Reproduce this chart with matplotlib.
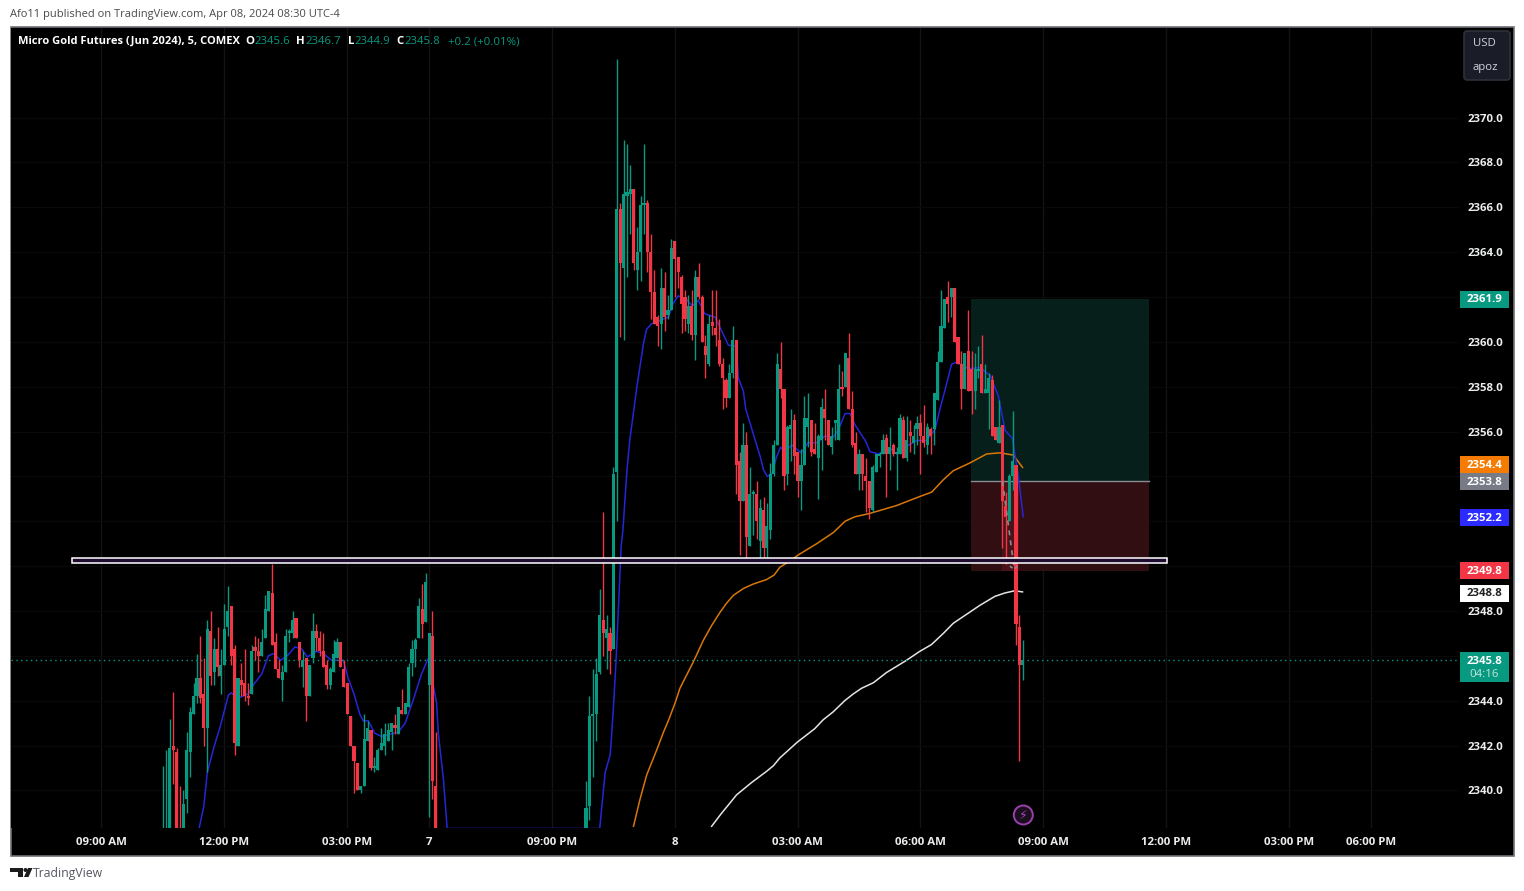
import numpy as np
import matplotlib
matplotlib.use("Agg")
import matplotlib.pyplot as plt
from matplotlib.patches import Rectangle, FancyBboxPatch, Polygon, Circle
from matplotlib.transforms import blended_transform_factory

W, H = 1524, 891

# first session, bars 0..80
opens_a = [2336.5,2336.5,2336.5,2342.0,2341.7,2337.5,2336.5,2339.6,2341.7,2343.4,
 2344.2,2345.0,2344.3,2342.8,2347.1,2345.3,2346.3,2345.1,2345.6,2347.3,
 2348.2,2346.3,2342.0,2344.9,2344.8,2344.2,2344.3,2346.4,2346.2,2346.0,
 2346.8,2348.0,2348.8,2346.6,2345.4,2344.9,2345.3,2347.0,2347.0,2347.7,
 2346.6,2345.5,2345.9,2344.2,2345.9,2347.1,2346.8,2346.2,2345.6,2344.7,
 2345.3,2345.9,2346.6,2345.4,2344.8,2343.3,2342.0,2341.2,2340.0,2340.2,
 2342.2,2342.7,2341.0,2340.9,2341.8,2342.0,2342.2,2342.6,2342.9,2342.5,
 2343.6,2343.4,2343.7,2345.7,2346.3,2346.8,2348.1,2347.5,2344.7,2346.9,2340.2]
highs_a = [2341.1,2341.8,2343.2,2344.4,2341.9,2340.2,2340.0,2342.6,2343.7,2344.8,
 2346.1,2346.9,2345.9,2347.6,2348.0,2346.8,2347.3,2346.3,2348.3,2349.1,
 2348.2,2346.5,2345.0,2345.7,2346.3,2344.8,2346.5,2346.9,2346.8,2347.2,
 2348.7,2348.9,2350.1,2347.0,2345.8,2345.6,2347.2,2347.2,2348.0,2347.7,
 2346.6,2346.2,2345.9,2345.6,2347.9,2347.4,2347.1,2347.0,2345.8,2345.5,
 2346.7,2346.8,2346.6,2345.8,2344.8,2343.3,2342.0,2341.2,2340.2,2343.4,
 2343.1,2342.7,2341.5,2341.9,2342.8,2343.0,2343.0,2343.0,2343.4,2343.7,
 2344.5,2343.9,2345.7,2346.7,2346.8,2348.6,2349.2,2349.7,2347.0,2348.0,2342.6]
lows_a = [2336.0,2336.0,2336.0,2340.3,2336.0,2336.0,2336.0,2339.0,2340.6,2343.4,
 2343.9,2343.9,2342.0,2340.8,2344.7,2344.7,2345.1,2344.3,2345.6,2346.9,
 2345.6,2341.6,2342.0,2344.2,2344.0,2343.8,2344.3,2345.8,2345.3,2346.0,
 2346.8,2348.0,2346.5,2345.4,2345.0,2344.0,2345.3,2346.6,2346.8,2346.8,
 2345.5,2344.6,2343.1,2344.2,2345.7,2346.2,2346.0,2345.5,2344.5,2344.5,
 2345.3,2345.9,2345.5,2344.6,2343.4,2342.0,2339.9,2340.0,2339.9,2340.2,
 2342.2,2340.9,2340.8,2340.9,2341.8,2341.6,2342.2,2341.8,2342.5,2342.5,
 2343.4,2343.4,2343.7,2345.1,2345.5,2346.8,2346.8,2347.5,2338.8,2339.6,2336.0]
closes_a = [2337.5,2337.8,2341.9,2341.8,2336.5,2336.8,2339.4,2341.8,2343.5,2344.2,
 2345.0,2344.1,2342.8,2347.2,2345.1,2346.3,2345.5,2345.6,2347.2,2348.0,
 2346.0,2342.1,2345.0,2344.7,2344.2,2344.1,2346.2,2346.2,2346.0,2346.6,
 2348.1,2348.9,2346.5,2345.4,2345.0,2345.3,2346.9,2347.0,2347.6,2346.8,
 2345.8,2345.8,2344.2,2345.6,2347.1,2346.8,2346.2,2345.5,2344.7,2345.4,
 2346.1,2346.6,2345.5,2344.6,2343.4,2342.0,2341.3,2340.0,2340.2,2342.3,
 2342.8,2341.0,2341.1,2341.8,2342.1,2342.5,2342.7,2343.0,2342.8,2343.7,
 2343.4,2343.9,2345.5,2346.3,2346.7,2348.2,2347.4,2349.3,2347.0,2340.4,2336.5]

# second session, bars 124..252
opens_b = [2337.5,2339.3,2343.3,2343.4,2345.3,2347.6,2346.8,2347.0,2346.3,2354.2,
 2365.9,2363.3,2366.5,2366.6,2366.8,2363.2,2364.0,2366.1,2366.2,2364.0,
 2362.2,2361.1,2360.8,2362.4,2361.2,2361.4,2364.5,2363.8,2362.9,2362.0,
 2360.8,2361.6,2360.3,2362.9,2362.0,2359.8,2359.0,2360.9,2360.6,2360.1,
 2359.0,2358.3,2357.5,2358.6,2360.1,2354.7,2352.9,2355.4,2350.9,2353.2,
 2353.2,2351.1,2352.5,2350.8,2351.6,2354.1,2355.4,2358.8,2357.9,2354.1,
 2356.1,2356.5,2355.1,2353.8,2354.5,2356.2,2356.5,2355.2,2354.8,2355.6,
 2357.0,2356.5,2355.3,2356.4,2355.6,2358.0,2358.0,2359.3,2357.0,2355.5,
 2354.1,2355.0,2354.0,2353.8,2352.5,2354.2,2354.9,2355.0,2355.7,2355.0,
 2355.4,2355.0,2355.0,2356.5,2354.8,2356.0,2355.5,2356.1,2356.4,2355.8,
 2355.4,2356.1,2356.1,2357.4,2359.1,2360.6,2362.0,2362.0,2362.4,2360.2,
 2359.0,2357.9,2359.6,2358.8,2357.8,2358.7,2359.0,2357.7,2357.7,2358.3,
 2356.2,2355.5,2356.3,2352.7,2352.0,2354.0,2354.5,2347.3,2345.6]
highs_b = [2340.4,2344.2,2345.4,2345.9,2349.0,2352.4,2347.8,2347.3,2354.4,2372.6,
 2366.2,2369.0,2368.8,2367.9,2366.8,2365.1,2366.5,2368.8,2366.3,2364.8,
 2363.2,2361.2,2363.3,2363.1,2362.1,2364.6,2364.5,2363.8,2363.0,2362.3,
 2362.1,2362.3,2363.2,2363.5,2362.1,2360.3,2361.2,2362.3,2362.3,2361.0,
 2359.3,2358.4,2359.0,2360.7,2360.1,2355.1,2356.4,2356.0,2354.4,2353.4,
 2353.8,2353.0,2353.1,2352.8,2354.6,2355.6,2359.5,2360.0,2357.9,2356.3,
 2357.0,2356.8,2355.1,2355.2,2357.6,2357.7,2356.5,2356.4,2355.9,2357.5,
 2357.9,2356.5,2356.2,2356.5,2359.0,2358.7,2359.5,2360.4,2357.8,2356.0,
 2355.2,2355.0,2354.8,2353.8,2354.5,2355.0,2355.1,2355.9,2355.9,2356.2,
 2355.5,2355.3,2356.8,2356.7,2356.7,2356.5,2356.3,2356.7,2356.8,2357.2,
 2356.4,2356.2,2357.7,2359.6,2362.3,2361.9,2362.7,2362.4,2362.4,2360.2,
 2359.6,2359.5,2361.4,2359.6,2359.5,2359.8,2360.3,2359.0,2358.6,2358.5,
 2356.2,2357.4,2356.3,2353.3,2354.1,2356.9,2354.5,2347.8,2346.7]
lows_b = [2337.0,2338.7,2340.6,2342.2,2345.2,2346.0,2345.4,2345.2,2346.3,2352.0,
 2360.2,2360.1,2362.9,2364.8,2363.2,2362.3,2362.7,2364.8,2363.1,2361.0,
 2360.8,2359.8,2359.7,2360.5,2361.0,2361.4,2362.0,2362.4,2360.4,2360.5,
 2360.4,2360.1,2359.2,2361.9,2360.0,2358.4,2358.9,2360.3,2359.8,2358.9,
 2357.0,2357.1,2357.5,2358.4,2353.2,2350.5,2352.9,2350.3,2350.9,2351.4,
 2351.2,2350.3,2350.4,2350.3,2351.2,2354.0,2355.4,2357.5,2353.4,2353.6,
 2354.7,2354.1,2353.1,2352.5,2354.5,2355.3,2354.9,2355.0,2353.0,2354.3,
 2355.6,2355.4,2355.0,2355.6,2355.6,2357.6,2358.0,2357.0,2355.3,2354.1,
 2353.4,2353.4,2352.4,2352.1,2352.4,2354.2,2354.4,2355.0,2353.1,2354.3,
 2354.9,2353.4,2355.0,2354.8,2354.7,2355.1,2355.0,2355.4,2354.1,2355.3,
 2355.0,2355.0,2355.4,2357.4,2359.1,2360.6,2360.9,2361.1,2360.0,2359.0,
 2357.0,2357.9,2357.8,2356.8,2357.0,2358.4,2357.7,2357.7,2356.1,2355.8,
 2355.6,2355.5,2350.8,2350.1,2352.0,2353.4,2346.5,2341.3,2344.9]
closes_b = [2339.2,2343.3,2343.4,2345.2,2347.8,2347.0,2347.2,2346.2,2354.1,2365.9,
 2363.5,2366.6,2366.7,2366.8,2363.5,2364.0,2366.1,2366.2,2364.0,2362.2,
 2360.8,2360.7,2362.4,2361.1,2361.4,2364.2,2363.7,2363.1,2361.7,2361.0,
 2361.6,2360.3,2362.9,2362.0,2360.0,2359.4,2360.8,2360.7,2360.3,2359.0,
 2358.4,2357.5,2358.6,2360.1,2354.5,2352.9,2355.4,2351.3,2353.2,2353.3,
 2352.0,2352.6,2350.8,2351.8,2354.1,2355.4,2359.0,2357.9,2354.0,2356.2,
 2356.3,2354.9,2353.8,2354.5,2356.6,2356.6,2355.1,2355.0,2355.8,2357.1,
 2356.6,2355.4,2355.8,2356.4,2357.9,2357.9,2359.5,2357.0,2355.4,2354.1,
 2355.0,2354.1,2353.8,2352.6,2354.4,2355.0,2355.0,2355.6,2355.0,2355.3,
 2355.0,2355.0,2356.6,2354.8,2355.6,2355.8,2355.8,2356.4,2355.8,2355.5,
 2356.2,2355.8,2357.7,2359.1,2360.7,2361.9,2361.7,2362.4,2360.0,2359.0,
 2357.9,2359.5,2357.8,2357.8,2358.8,2358.8,2357.7,2357.9,2358.4,2355.8,
 2355.6,2356.2,2352.9,2352.2,2354.0,2354.7,2347.4,2345.6,2345.8]

bars_a = np.arange(0, 81)
bars_b = np.arange(124, 253)

fast_x = [10.6,12,13,15,16.8,19.2,20,21.8,25,26.5,29,30.9,32.4,34.5,36.8,38.7,40.7,42.3,45,47,49.4,52.9,54.3,56,57.7,58.7,60.2,62.1,64.1,66.5,69,71,73.4,75.8,77.8,79.4,80.2,80.7,82.2,83.3,
 128,129.6,131.1,131.9,132.8,134.3,134.8,136,136.8,139,140.8,141.7,143.2,145.6,148.1,149.5,151,153.4,155.1,156.9,158.8,161.8,163.7,165.7,168.1,168.6,170.1,170.8,175,176,177.1,178.4,179.9,181,182.3,184.3,187,189.1,191.8,194,196.5,198,199.9,201.4,202.8,206,207.2,209.7,213.1,215,217,220.9,223.8,226.3,227.7,229.7,231.1,232.6,236,239.4,242.4,244.8,246.8,248.9,250.7,252.1]
fast_y = [2338.3,2339.3,2340.8,2341.95,2342.85,2344.25,2344.35,2344.1,2344.3,2344.7,2345.2,2346.0,2346.1,2345.8,2346.05,2346.4,2346.3,2345.95,2346.2,2346.1,2345.8,2345.8,2345.0,2344.3,2343.4,2343.1,2343.1,2342.55,2342.4,2342.5,2342.6,2343.0,2344.05,2345.2,2345.9,2344.55,2343.9,2342.55,2340.5,2338.3,
 2338.3,2340.8,2341.6,2343.4,2345.8,2350.9,2351.6,2354.3,2355.6,2358.1,2359.9,2360.55,2360.8,2360.95,2361.1,2361.7,2362.05,2361.9,2361.6,2361.85,2361.25,2361.1,2360.5,2359.85,2359.8,2358.4,2357.8,2357.0,2354.9,2354.3,2354.0,2354.1,2354.9,2355.3,2355.1,2355.4,2355.05,2355.5,2355.5,2355.8,2355.75,2356.1,2356.8,2356.8,2356.3,2355.55,2355.1,2355.0,2355.25,2355.0,2355.25,2355.6,2355.6,2356.1,2357.0,2358.15,2359.0,2359.1,2358.8,2358.85,2358.5,2357.6,2356.05,2355.7,2354.0,2352.2]
mid_x = [137.9,139.8,141.8,144.7,146.7,148.1,150.1,151.5,154,155.5,158.4,160.8,163.3,165.2,167.2,170.1,173,176.9,179.1,180.8,184,186.2,191.6,196.5,199.9,202.8,207.2,215,220.9,225.3,228.7,231.6,236.5,241.4,245.3,249.2,251.9]
mid_y = [2338.4,2339.6,2340.7,2341.8,2342.6,2343.1,2343.9,2344.55,2345.3,2345.75,2346.7,2347.35,2347.95,2348.35,2348.7,2349.0,2349.2,2349.4,2349.6,2349.95,2350.25,2350.5,2351.0,2351.5,2352.0,2352.2,2352.35,2352.7,2353.05,2353.3,2353.85,2354.25,2354.6,2355.0,2355.05,2354.95,2354.4]
slow_x = [160.8,163.7,165.7,168.1,172.5,176.9,178.9,180.8,185.9,191,193.5,196.4,199.8,202.3,204.7,208.2,212,217.9,221.8,225.2,228.7,231.6,235.5,239.4,243.8,246.7,249.6,251.9]
slow_y = [2338.4,2338.98,2339.35,2339.8,2340.35,2340.85,2341.1,2341.45,2342.15,2342.75,2343.15,2343.5,2344.0,2344.3,2344.55,2344.8,2345.25,2345.8,2346.2,2346.5,2347.0,2347.45,2347.85,2348.25,2348.65,2348.8,2348.9,2348.85]

price_ticks = list(range(2340, 2372, 2))
hidden_price_labels = [2362, 2354, 2352]  # sit fully under the coloured price tags
time_ticks = [-18, 18, 54, 78, 114, 150, 186, 222, 258, 294, 330, 354]
time_labels = ["09:00 AM", "12:00 PM", "03:00 PM", "7", "09:00 PM", "8", "03:00 AM",
               "06:00 AM", "09:00 AM", "12:00 PM", "03:00 PM", "06:00 PM"]

target_price, entry_price, stop_price = 2361.9, 2353.8, 2349.8
last_price = 2345.8
GREEN = "#089981"
RED = "#F23645"
plt.rcParams["font.family"] = ["Open Sans", "DejaVu Sans"]


def fx(x):
    return x / W


def fy(y):
    return 1 - y / H


fig = plt.figure(figsize=(W / 100, H / 100), dpi=100, facecolor="white")
fig.add_artist(Rectangle((fx(10.5), fy(855.5)), 1503 / W, 829 / H, transform=fig.transFigure,
                         facecolor="black", edgecolor="#6f7178", linewidth=1.2, zorder=-1))

left, right, top, bottom = 11, 1459, 28, 828
ax = fig.add_axes([fx(left), fy(bottom), (right - left) / W, (bottom - top) / H], facecolor="black")
ax.set_xlim((left - 162.9) / 3.4125, (right - 162.9) / 3.4125)
ax.set_ylim(2370 - (bottom - 117.5) / 22.43, 2370 + (117.5 - top) / 22.43)
for side in ax.spines.values():
    side.set_visible(False)

ax.yaxis.tick_right()
ax.set_yticks(price_ticks)
ax.set_yticklabels(["" if p in hidden_price_labels else f"{p:.1f}" for p in price_ticks])
ax.set_xticks(time_ticks)
ax.set_xticklabels(time_labels)
ax.tick_params(length=0, colors="#eceded", labelsize=8.2, pad=6.5)
ax.tick_params(axis="y", pad=6)
for lab in ax.get_xticklabels() + ax.get_yticklabels():
    lab.set_fontweight("bold")
ax.grid(True, axis="x", color="#141414", linewidth=1, zorder=0)
ax.grid(True, axis="y", color="#090909", linewidth=1, zorder=0)
ax.set_axisbelow(True)

# position tool
span_a = (971 - left) / (right - left)
span_b = (1149 - left) / (right - left)
ax.axhspan(entry_price, target_price, xmin=span_a, xmax=span_b, facecolor="#061f1a", edgecolor="none", zorder=1)
ax.axhspan(stop_price, entry_price, xmin=span_a, xmax=span_b, facecolor="#310e11", edgecolor="none", zorder=1)
ax.plot([236.8, 289], [entry_price, entry_price], color="#8a8c93", lw=1, zorder=1.5)
ax.add_patch(Rectangle((246, stop_price), 4.9, entry_price - stop_price, facecolor="#4a1318",
                       edgecolor="none", zorder=1.2))

ax.plot(slow_x, slow_y, color="#e4e4e4", lw=1.1, zorder=2)
ax.plot(mid_x, mid_y, color="#d97706", lw=1.1, zorder=2)
ax.plot(fast_x, fast_y, color="#2626d9", lw=1.1, zorder=2)
ax.axhline(last_price, color=GREEN, lw=1, ls=(0, (1, 2.5)), zorder=2)


def draw_candles(bars, o, h, l, c):
    o, h, l, c = map(np.array, (o, h, l, c))
    colors = np.where(c >= o, GREEN, RED)
    ax.vlines(bars, l, h, colors=colors, linewidth=1, zorder=3)
    ax.bar(bars, np.maximum(np.abs(c - o), 0.1), bottom=np.minimum(o, c), width=0.92,
           color=colors, linewidth=0, zorder=3.1)


draw_candles(bars_a, opens_a, highs_a, lows_a, closes_a)
draw_candles(bars_b, opens_b, highs_b, lows_b, closes_b)

# trade path on top of the candles
ax.plot([246, 249.5], [2353.8, 2349.85], color="#8a8c93", lw=1.2, ls=(0, (3, 3)), zorder=3.5)
ax.plot([248.2, 249.5, 250.9], [2350.0, 2349.85, 2350.1], color="#8a8c93", lw=1.2, ls=(0, (2, 2)), zorder=3.5)

# horizontal zone
ax.add_patch(Rectangle((-26.6, 2350.14), 320.8, 0.23, facecolor="#200c30", edgecolor="white",
                       linewidth=1.1, zorder=4))

# price tags
tag_tr = blended_transform_factory(ax.transAxes, ax.transData)
tag_x0 = (1460 - left) / (right - left)
tag_w = 49 / (right - left)


def price_tag(price, text, bg, fg="white", tall=False, nudge=0.0):
    centre = price + nudge / 22.43
    hh = (30.5 if tall else 17) / 22.43
    y0 = centre - 8.5 / 22.43
    if tall:
        y0 = centre - 22 / 22.43
    ax.add_patch(Rectangle((tag_x0, y0), tag_w, hh, transform=tag_tr, facecolor=bg, edgecolor="none",
                           clip_on=False, zorder=6))
    ax.text(tag_x0 + tag_w / 2, centre - 0.7 / 22.43, text, transform=tag_tr, color=fg, ha="center",
            va="center", fontsize=8.2, fontweight="bold", clip_on=False, zorder=7)


price_tag(target_price, "2361.9", GREEN)
price_tag(2354.4, "2354.4", "#f57c00", nudge=2.7)
price_tag(entry_price, "2353.8", "#787b86", nudge=-0.5)
price_tag(2352.2, "2352.2", "#2b2bff", nudge=-0.8)
price_tag(stop_price, "2349.8", RED)
price_tag(2348.8, "2348.8", "white", fg="#222222")
price_tag(last_price, "2345.8", GREEN, tall=True)
ax.text(tag_x0 + tag_w / 2, last_price - 14.5 / 22.43, "04:16", transform=tag_tr, color="#c5e6df",
        ha="center", va="center", fontsize=8.2, clip_on=False, zorder=7)

# header and legend
fig.text(fx(10), fy(14.5), "Afo11 published on TradingView.com, Apr 08, 2024 08:30 UTC-4",
         color="#4a4a4a", fontsize=8, va="center")
fig.text(fx(18), fy(41.5), "Micro Gold Futures (Jun 2024), 5, COMEX", color="white", fontsize=8,
         fontweight="bold", va="center")
legend_parts = [(245, "O", "white"), (254, "2345.6", GREEN), (296, "H", "white"), (305, "2346.7", GREEN),
                (348, "L", "white"), (354, "2344.9", GREEN), (396, "C", "white"), (404, "2345.8", GREEN),
                (448, "+0.2 (+0.01%)", GREEN)]
for px, s, col in legend_parts:
    fig.text(fx(px), fy(41.5), s, color=col, fontsize=8.2, va="center",
             fontweight="bold" if col == "white" else "normal")

# currency button
fig.add_artist(FancyBboxPatch((fx(1467), fy(77)), 40 / W, 43 / H, transform=fig.transFigure,
                              boxstyle="round,pad=0.002", mutation_aspect=W / H, facecolor="#1a1d28",
                              edgecolor="#33363f", linewidth=1, zorder=5))
fig.text(fx(1484), fy(43.5), "USD", color="#d1d4dc", fontsize=8.2, ha="center", va="center", zorder=6)
fig.text(fx(1485), fy(67.5), "apoz", color="#d1d4dc", fontsize=8.2, ha="center", va="center", zorder=6)

# lightning marker
fig.add_artist(Circle((1023.3, H - 815), 9.5, transform=None, facecolor="#1b0f1f", edgecolor="#9c3fae",
                      linewidth=1.4, zorder=5))
fig.text(fx(1023.3), fy(815), "\u26a1", color="#a04ab8", fontsize=9, ha="center", va="center",
         family="DejaVu Sans", zorder=6)

# footer logo and name
scale_px = np.array([1 / W, -1 / H])
lift = np.array([0, 1])
t_shape = np.array([(10, 868), (22.5, 868), (22.5, 877), (17.5, 877), (17.5, 872), (10, 872)])
slash = np.array([(24, 877), (28.5, 877), (32.5, 868), (28, 868)])
fig.add_artist(Polygon(t_shape * scale_px + lift, closed=True, transform=fig.transFigure,
                       facecolor="#1c1c1c", edgecolor="none"))
fig.add_artist(Polygon(slash * scale_px + lift, closed=True, transform=fig.transFigure,
                       facecolor="#1c1c1c", edgecolor="none"))
fig.add_artist(Circle((25.5, H - 870), 2, transform=None, facecolor="#1c1c1c", edgecolor="none"))
fig.text(fx(33), fy(873.5), "TradingView", color="#55585f", fontsize=8.8, va="center")

fig.savefig("out.png", dpi=100, facecolor="white")
